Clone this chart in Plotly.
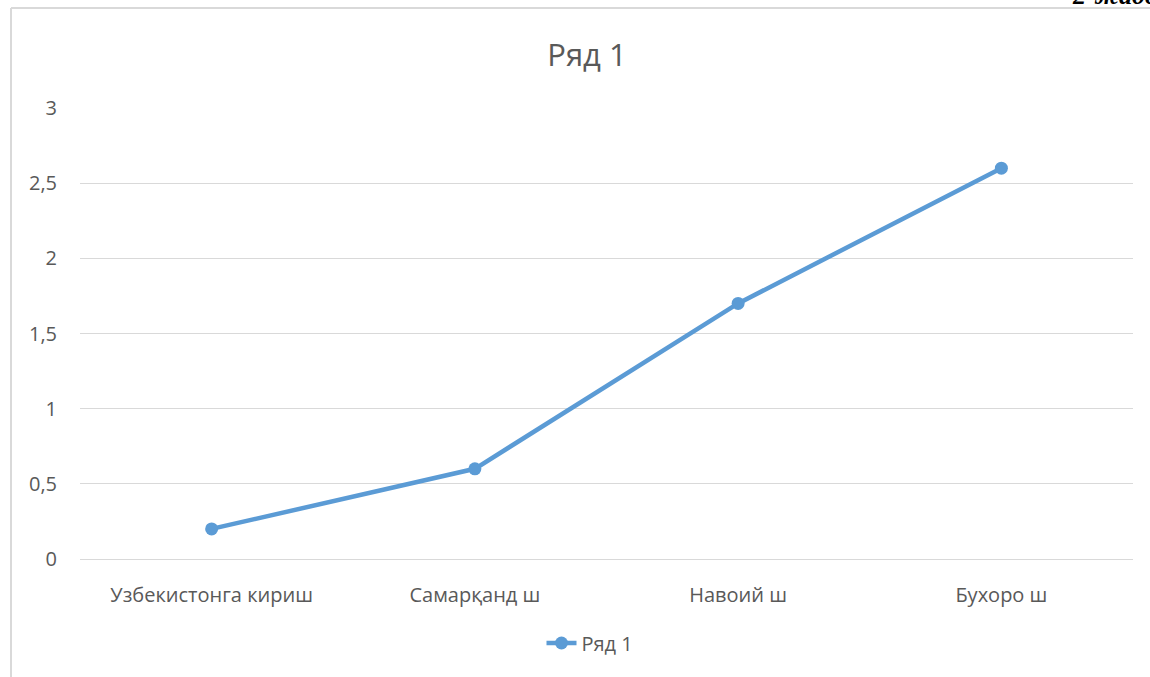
import plotly.graph_objects as go

categories = ["Узбекистонга кириш", "Самарқанд ш", "Навоий ш", "Бухоро ш"]
values = [0.2, 0.6, 1.7, 2.6]
series_name = "Ряд 1"
y_ticks = [0, 0.5, 1, 1.5, 2, 2.5, 3]
y_tick_labels = ["0", "0,5", "1", "1,5", "2", "2,5", "3"]

W, H = 1150, 677
L, R, T, B = 80, 17, 108, 118
pw, ph = W - L - R, H - T - B

def px_x(x):
    return (x - L) / pw

def px_y(y):
    return (H - B - y) / ph

fig = go.Figure()
fig.add_trace(go.Scatter(
    x=categories, y=values, name=series_name, mode="lines+markers",
    line=dict(color="#5B9BD5", width=4.5),
    marker=dict(color="#5B9BD5", size=13),
))

fig.update_layout(
    width=W, height=H,
    margin=dict(l=L, r=R, t=T, b=B),
    paper_bgcolor="white", plot_bgcolor="white",
    font=dict(family="Open Sans, sans-serif", size=20, color="#595959"),
    title=dict(text=series_name, x=px_x(587), xref="paper", xanchor="center",
               y=1 - 55 / H, yanchor="middle",
               font=dict(size=31, color="#595959")),
    showlegend=True,
    legend=dict(orientation="h", x=px_x(590), xanchor="center", y=px_y(643),
                yanchor="middle", font=dict(size=20, color="#595959")),
    xaxis=dict(type="category", showgrid=False, showline=True, linecolor="#D9D9D9",
               linewidth=1, ticks="", ticklabelstandoff=18,
               range=[-0.5, 3.5]),
    yaxis=dict(range=[0, 3], tickvals=y_ticks, ticktext=y_tick_labels,
               showgrid=True, gridcolor="#D9D9D9", gridwidth=1, zeroline=False,
               showline=False, ticks="", ticklabelstandoff=22),
)

# chart border (partially cut off at right/bottom)
fig.add_shape(type="line", xref="paper", yref="paper",
              x0=px_x(11), x1=px_x(1160), y0=px_y(8), y1=px_y(8),
              line=dict(color="#D9D9D9", width=2))
fig.add_shape(type="line", xref="paper", yref="paper",
              x0=px_x(11), x1=px_x(11), y0=px_y(8), y1=px_y(690),
              line=dict(color="#D9D9D9", width=2))

# cut-off caption in top right
fig.add_annotation(text="<b><i>2-жадвал</i></b>", xref="paper", yref="paper",
                   x=px_x(1070), xanchor="left", y=px_y(12), yanchor="bottom",
                   showarrow=False,
                   font=dict(family="Liberation Serif", size=26, color="black"))

fig.write_html("out.html", config={"displayModeBar": False},
               post_script="document.body.style.margin='0';document.body.style.overflow='hidden';")
